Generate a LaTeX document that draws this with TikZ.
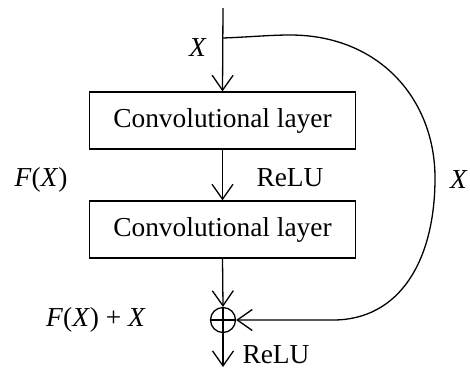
\documentclass[tikz,border=0pt]{standalone}
\usepackage{fontspec}
\setmainfont{Liberation Serif}
\usetikzlibrary{arrows.meta}
\begin{document}
\begin{tikzpicture}[x=1bp,y=-1bp,
  line width=1.3bp,
  txt/.style={font=\fontsize{27.5}{31}\selectfont, inner sep=0pt},
  layer/.style={draw, rectangle, minimum width=266bp, minimum height=57bp,
    inner sep=0pt, font=\fontsize{27.5}{31}\selectfont},
  sumnode/.style={draw, circle, minimum size=25bp, inner sep=0pt},
  flow/.style={-{Straight Barb[length=15bp,width=21bp,line width=1.3bp]}}]
  \useasboundingbox (0,0) rectangle (470,369);

  % main path
  \coordinate (in) at (223,8);
  \coordinate (br) at (223,38);
  \node[layer] (c1) at (222.5,120.5) {Convolutional layer};
  \node[layer] (c2) at (222.5,229.5) {Convolutional layer};
  \node[sumnode] (sum) at (223,320) {};
  \coordinate (out) at (223,367);

  \draw[flow] (in) -- (c1.north);
  \draw[flow] (c1.south) -- (c2.north);
  \draw[flow] (c2.south) -- (sum.north);
  \draw[flow] (sum.south) -- (out);
  % the plus sign inside the adder
  \draw (sum.west) -- (sum.east);
  \draw (sum.north) -- (sum.south);

  % identity shortcut
  \draw[flow] (br) .. controls (250,37) and (270,35) .. (290,35)
    .. controls (380,35) and (435,100) .. (435,178)
    .. controls (435,260) and (400,320) .. (333,320)
    -- (sum.east);

  % labels
  \node[txt] (lx) at (198,48) {\textit{X}};
  \node[txt] (lf) at (41,180) {\textit{F}(\textit{X})};
  \node[txt] (lr1) at (290,178) {ReLU};
  \node[txt] (lxr) at (459,180) {\textit{X}};
  \node[txt] (lfx) at (96,320) {\textit{F}(\textit{X}) + \textit{X}};
  \node[txt] (lr2) at (276,355) {ReLU};
\end{tikzpicture}
\end{document}
